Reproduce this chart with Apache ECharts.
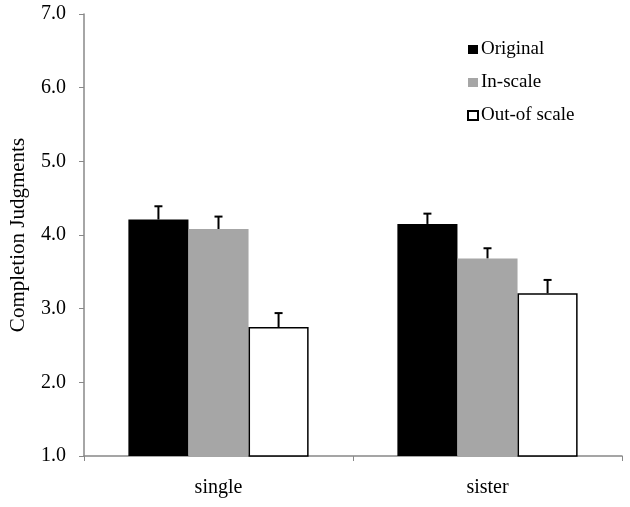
<!DOCTYPE html>
<html><head><meta charset="utf-8">
<script src="https://cdn.jsdelivr.net/npm/echarts@6/dist/echarts.min.js"></script>
<style>html,body{margin:0;padding:0;background:#fff}#c{width:630px;height:507px}</style>
</head><body><div id="c"></div>
<script>
const categories = ['single', 'sister'];
const seriesNames = ['Original', 'In-scale', 'Out-of scale'];
const original = [4.21, 4.15];
const inScale = [4.08, 3.68];
const outScale = [2.75, 3.21];
const errOriginal = [0.18, 0.14];
const errInScale = [0.17, 0.14];
const errOutScale = [0.19, 0.18];
const yTicks = [1, 2, 3, 4, 5, 6, 7];

const font = 'Liberation Serif';
const values = [original, inScale, outScale];
const errs = [errOriginal, errInScale, errOutScale];
const styles = [
  {color: '#000000'},
  {color: '#a6a6a6'},
  {color: '#ffffff', borderColor: '#000000', borderWidth: 1.5}
];

const barSeries = seriesNames.map((n, i) => ({
  name: n, type: 'bar', data: values[i], itemStyle: styles[i],
  barGap: '0%', barCategoryGap: '33%', z: 2
}));

const errSeries = seriesNames.map((n, i) => ({
  type: 'custom', z: 1,
  data: categories.map((c, k) => [k, values[i][k], errs[i][k]]),
  renderItem: function (params, api) {
    const k = api.value(0), v = api.value(1), e = api.value(2);
    const catW = api.size([1, 0])[0];
    const bw = catW * (1 - 0.33) / 3;
    const base = api.coord([k, v]);
    const x = base[0] + (i - 1) * bw;
    const top = api.coord([k, v + e])[1];
    const cap = 4;
    const st = {stroke: '#000', lineWidth: 2};
    return {type: 'group', children: [
      {type: 'line', shape: {x1: x, y1: base[1], x2: x, y2: top}, style: st},
      {type: 'line', shape: {x1: x - cap, y1: top, x2: x + cap, y2: top}, style: st}
    ]};
  }
}));

const chart = echarts.init(document.getElementById('c'));
chart.setOption({
  animation: false,
  backgroundColor: '#fff',
  grid: {left: 82, right: 8, top: 14, bottom: 51},
  legend: {
    data: seriesNames.map(n => ({name: n, icon: 'rect'})), orient: 'vertical', left: 467, top: 40,
    padding: 0, itemWidth: 10, itemHeight: 9, itemGap: 14,
    textStyle: {fontFamily: font, fontSize: 19, color: '#000', padding: [0, 0, 0, -2]}
  },
  xAxis: {
    type: 'category', data: categories,
    axisLine: {lineStyle: {color: '#888', width: 1.5}},
    axisTick: {show: true, length: 5, lineStyle: {color: '#888'}},
    axisLabel: {fontFamily: font, fontSize: 20, color: '#000', margin: 22}
  },
  yAxis: {
    type: 'value', min: yTicks[0], max: yTicks[yTicks.length - 1], interval: 1,
    name: 'Completion Judgments', nameLocation: 'middle', nameGap: 55,
    nameTextStyle: {fontFamily: font, fontSize: 21, color: '#000'},
    axisLine: {show: true, lineStyle: {color: '#888', width: 1.5}},
    axisTick: {show: true, length: 5, lineStyle: {color: '#888'}},
    splitLine: {show: false},
    axisLabel: {fontFamily: font, fontSize: 20, color: '#000', margin: 18,
      formatter: v => v.toFixed(1)}
  },
  series: barSeries.concat(errSeries)
});
</script></body></html>
